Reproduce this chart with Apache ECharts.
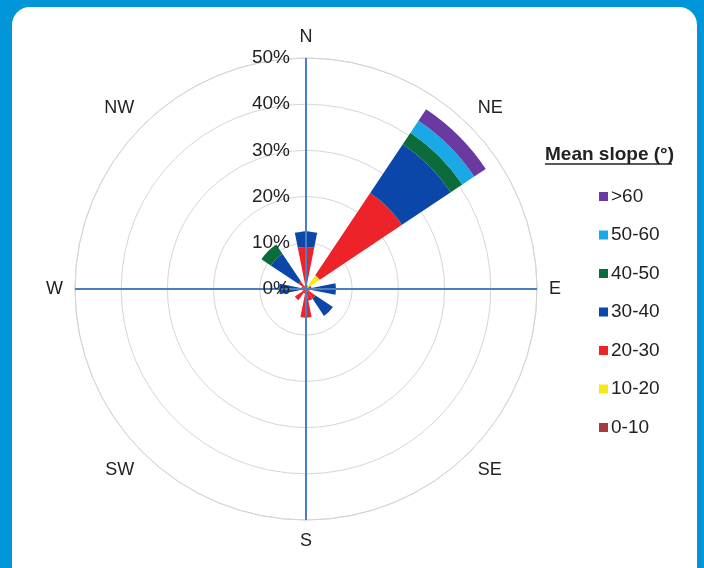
<!DOCTYPE html>
<html>
<head>
<meta charset="utf-8">
<script src="https://cdn.jsdelivr.net/npm/echarts@6/dist/echarts.min.js"></script>
<style>
html,body{margin:0;padding:0;background:#0096d9;}
#chart{width:704px;height:568px;}
</style>
</head>
<body>
<div id="chart"></div>
<script>
// Directions (16 sectors, clockwise from North)
const directions = ['N','NNE','NE','ENE','E','ESE','SE','SSE','S','SSW','SW','WSW','W','WNW','NW','NNW'];
// Percent of area per mean-slope class and direction
const slope0_10  = [0.3,0,0.4,0,0.3,0,0.3,0,0.4,0,0.3,0,0.3,0,0.3,0];
const slope10_20 = [0,0,3.2,0,0,0,0,0,0,0,0,0,0,0,0,0];
const slope20_30 = [8.8,0.8,21.4,1.2,1.2,0.8,2.2,2.6,5.8,1.0,2.6,0.8,1.4,1.0,1.7,0.8];
const slope30_40 = [3.3,0,12.7,0,5.0,0,4.5,0,0,0,0,0,4.1,0,7.2,0];
const slope40_50 = [0,0,3.0,0,0,0,0,0,0,0,0,0,0,0,2.4,0];
const slope50_60 = [0,0,3.1,0,0,0,0,0,0,0,0,0,0,0,0,0];
const slope60    = [0,0,3.0,0,0,0,0,0,0,0,0,0,0,0,0,0];
const classNames = ['0-10','10-20','20-30','30-40','40-50','50-60','>60'];
const radiusTicks = [0,10,20,30,40,50];

const colors = ['#a63c3c','#f5ea14','#ee2229','#0a47a8','#0b6b3a','#1aa9e6','#6b3aa0'];
const classData = [slope0_10, slope10_20, slope20_30, slope30_40, slope40_50, slope50_60, slope60];

const chart = echarts.init(document.getElementById('chart'));
const txt = '#222222';
const font = 'Liberation Sans, Arial, sans-serif';

const series = classNames.map((name, i) => ({
  type: 'bar',
  name: name,
  coordinateSystem: 'polar',
  polarIndex: 0,
  stack: 'slope',
  data: classData[i],
  barCategoryGap: '0%',
  barGap: '0%',
  itemStyle: { color: colors[i] },
  z: 2
}));

chart.setOption({
  backgroundColor: '#0096d9',
  animation: false,
  textStyle: { fontFamily: font },
  graphic: [
    { type: 'rect', z: -10, shape: { x: 12, y: 7, width: 685, height: 600, r: [18,18,0,0] }, style: { fill: '#ffffff' } },
    { type: 'line', z: 10, shape: { x1: 545, y1: 164, x2: 672, y2: 164 }, style: { stroke: txt, lineWidth: 1.5 } }
  ],
  title: {
    text: 'Mean slope (°)',
    left: 545, top: 145, padding: 0,
    textStyle: { fontSize: 19, fontWeight: 'bold', color: txt, fontFamily: font }
  },
  legend: {
    orient: 'vertical',
    left: 594, top: 182,
    data: classNames.slice().reverse(),
    icon: 'rect',
    itemWidth: 9, itemHeight: 9,
    itemGap: 19.5,
    textStyle: { fontSize: 19, color: txt, fontFamily: font, lineHeight: 19, padding: [0,0,0,-2] }
  },
  polar: [
    { center: [306, 289], radius: 231 },
    { center: [306, 289], radius: 231 }
  ],
  angleAxis: [
    {
      polarIndex: 0,
      type: 'category',
      data: directions,
      startAngle: 90 + 360 / directions.length / 2,
      clockwise: true,
      boundaryGap: true,
      axisLine: { show: true, lineStyle: { color: '#d6d6d6', width: 1 } },
      axisTick: { show: false },
      splitLine: { show: false },
      axisLabel: { interval: 1, margin: 12, fontSize: 18, color: txt, fontFamily: font }
    },
    {
      polarIndex: 1,
      type: 'category',
      data: ['N','E','S','W'],
      startAngle: 90,
      clockwise: true,
      boundaryGap: false,
      z: 5,
      axisLine: { show: false },
      axisTick: { show: false },
      axisLabel: { show: false },
      splitLine: { show: true, lineStyle: { color: '#4a7fc1', width: 2 } }
    }
  ],
  radiusAxis: [
    {
      polarIndex: 0,
      type: 'value', min: 0, max: 50, interval: 10,
      axisLine: { show: false }, axisTick: { show: false }, axisLabel: { show: false },
      splitLine: { show: true, lineStyle: { color: '#d6d6d6', width: 1 } }
    },
    {
      polarIndex: 1,
      type: 'value', min: radiusTicks[0], max: radiusTicks[radiusTicks.length-1], interval: 10,
      z: 6,
      axisLine: { show: false }, axisTick: { show: false },
      splitLine: { show: false },
      axisLabel: { formatter: '{value}%', fontSize: 19, color: txt, fontFamily: font, margin: 16 }
    }
  ],
  series: series
});
</script>
</body>
</html>
